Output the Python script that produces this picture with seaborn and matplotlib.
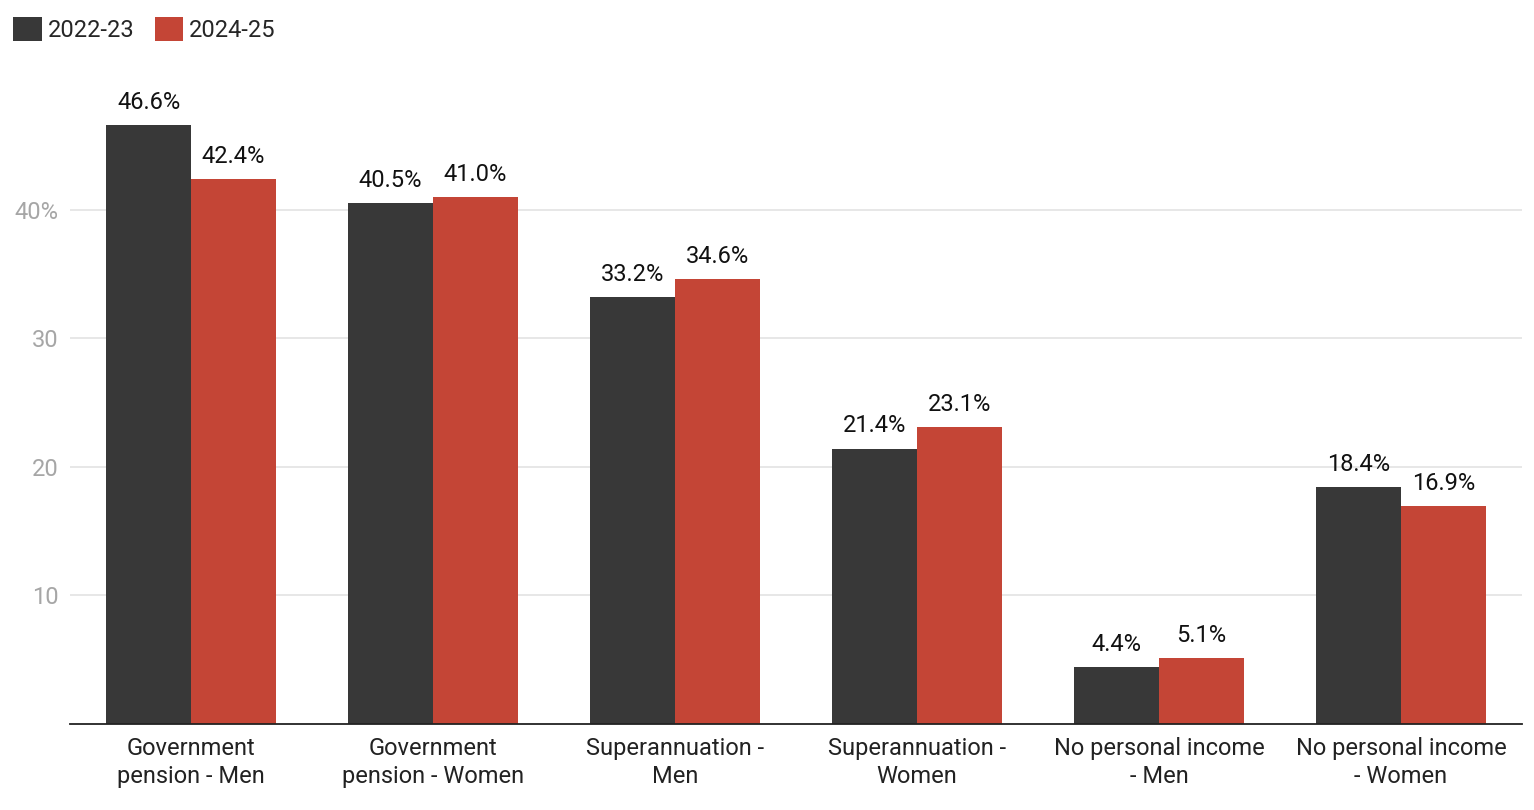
import pandas as pd
import matplotlib
matplotlib.use("Agg")
import matplotlib.pyplot as plt
import seaborn as sns
from matplotlib.patches import Patch

# data
categories = [
    "Government\npension - Men",
    "Government\npension - Women",
    "Superannuation -\nMen",
    "Superannuation -\nWomen",
    "No personal income\n- Men",
    "No personal income\n- Women",
]
years = ["2022-23", "2024-25"]
vals_2022 = [46.6, 40.5, 33.2, 21.4, 4.4, 18.4]
vals_2024 = [42.4, 41.0, 34.6, 23.1, 5.1, 16.9]
colors = ["#383838", "#c44536"]

df = pd.DataFrame({
    "Category": categories * 2,
    "Year": [years[0]] * 6 + [years[1]] * 6,
    "Value": vals_2022 + vals_2024,
})

sns.set_style("white")
plt.rcParams["font.family"] = ["Roboto", "DejaVu Sans"]

fig = plt.figure(figsize=(15.34, 8.10), dpi=100)
ax = fig.add_axes([70 / 1534, (810 - 723.5) / 810, 1452 / 1534, (723.5 - 81) / 810])

sns.barplot(data=df, x="Category", y="Value", hue="Year", order=categories,
            hue_order=years, palette=colors, width=0.7, gap=0,
            saturation=1, linewidth=0, legend=False, ax=ax)

ax.set_xlim(-0.5, 5.5)
ax.set_ylim(0, 50)
ax.set_yticks([10, 20, 30, 40])
ax.set_yticklabels(["10", "20", "30", "40%"])
ax.yaxis.grid(True, color="#e3e3e3", linewidth=1.2)
ax.set_axisbelow(True)
ax.set_xlabel("")
ax.set_ylabel("")

for s in ["top", "right", "left"]:
    ax.spines[s].set_visible(False)
ax.spines["bottom"].set_color("#222222")
ax.spines["bottom"].set_linewidth(1.3)

ax.tick_params(axis="y", length=0, pad=8, labelsize=17, labelcolor="#a6a6a6")
ax.tick_params(axis="x", length=0, pad=10, labelsize=17, labelcolor="#222222")
for lbl in ax.get_xticklabels():
    lbl.set_linespacing(1.25)

# value labels
for cont in ax.containers:
    for bar in cont:
        h = bar.get_height()
        ax.annotate(f"{h:.1f}%", (bar.get_x() + bar.get_width() / 2, h),
                    xytext=(0, 8), textcoords="offset points",
                    ha="center", va="bottom", fontsize=17, color="#111111")

handles = [Patch(facecolor=c, edgecolor="none") for c in colors]
fig.legend(handles, years, loc="upper left", bbox_to_anchor=(-0.002, 1.0),
           ncol=2, frameon=False, fontsize=17, handlelength=1.19,
           handleheight=1.19, handletextpad=0.25, columnspacing=0.9,
           borderaxespad=0.3)

fig.savefig("out.png", dpi=100)
